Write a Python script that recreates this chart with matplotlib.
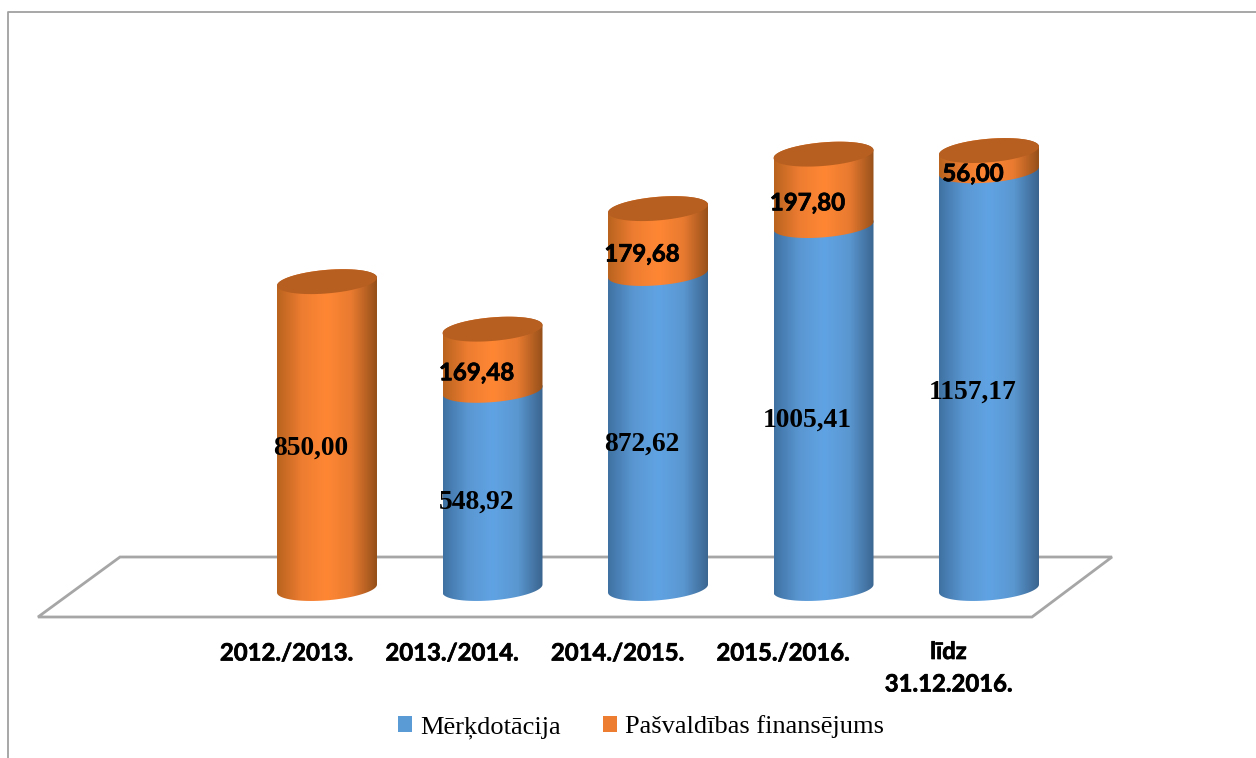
"""Mērķdotācija / pašvaldības finansējums: stacked cylinders on a floor."""
import numpy as np
import matplotlib
matplotlib.use("Agg")
import matplotlib.pyplot as plt
import matplotlib.patheffects as pe
from matplotlib.colors import LinearSegmentedColormap
from matplotlib.lines import Line2D
from matplotlib.patches import Patch, Polygon

categories = ["2012./2013.", "2013./2014.", "2014./2015.", "2015./2016.", "līdz\n31.12.2016."]
merkdotacija = [0.0, 548.92, 872.62, 1005.41, 1157.17]
pasvaldiba = [850.00, 169.48, 179.68, 197.80, 56.00]
label_merk = ["", "548,92", "872,62", "1005,41", "1157,17"]
label_pasv = ["850,00", "169,48", "179,68", "197,80", "56,00"]
series_names = ["Mērķdotācija", "Pašvaldības finansējums"]

W, H = 1256, 758
# pixel geometry of the scales
X0, STEP = 327.0, 165.5
Y0, PX_PER_UNIT = 588.5, 0.361
HALF_W = 50.0 / STEP
ELL_B = 11.8 / PX_PER_UNIT
ELL_TILT = 4.0 / PX_PER_UNIT

BLUE = ["#3f72a3", "#5a97d2", "#60a3e4", "#5a97d0", "#3a648f"]
ORANGE = ["#b9631f", "#ee7d31", "#ff8734", "#e87a30", "#96501a"]
CAP = "#b75f20"
LINE = "#a6a6a6"
HEAVY = [pe.withStroke(linewidth=0.5, foreground="black")]

fig = plt.figure(figsize=(W / 100, H / 100), dpi=100, facecolor="white")
ax = fig.add_axes([0, 0, 1, 1])
ax.axis("off")


def fig_xy(px, py):
    return px / W, 1 - py / H


# frame
fig.add_artist(Line2D(*zip(fig_xy(8, H), fig_xy(8, 12), fig_xy(W, 12)), color="#a0a0a0", lw=1.3))
# floor
floor = [fig_xy(38, 617), fig_xy(1032, 617), fig_xy(1112, 557), fig_xy(120, 557)]
ax.add_patch(Polygon(floor, closed=True, fill=False, edgecolor=LINE, lw=2,
                     transform=fig.transFigure, zorder=1))


def arc(i, v, t0, t1):
    # tilted ellipse: right end sits higher than the left end
    t = np.linspace(t0, t1, 60)
    return i + HALF_W * np.cos(t), v + ELL_TILT * np.cos(t) + ELL_B * np.sin(t)


def segment(i, v0, v1, colors, z):
    # side of the cylinder: front arc below, back arc above, horizontal shading
    xb, yb = arc(i, v0, np.pi, 2 * np.pi)
    xt, yt = arc(i, v1, 0, np.pi)
    poly = Polygon(np.column_stack([np.r_[xb, xt], np.r_[yb, yt]]), closed=True,
                   facecolor="none", edgecolor="none", zorder=z)
    ax.add_patch(poly)
    cmap = LinearSegmentedColormap.from_list("side", colors)
    grad = np.linspace(0, 1, 200)[None, :]
    im = ax.imshow(grad, cmap=cmap, aspect="auto", zorder=z, interpolation="bilinear",
                   extent=(i - HALF_W, i + HALF_W, v0 - 60, v1 + 60))
    im.set_clip_path(poly)


for i, (m, p) in enumerate(zip(merkdotacija, pasvaldiba)):
    if m > 0:
        segment(i, 0, m, BLUE, 2 + i * 0.1)
    top = m + p
    segment(i, m, top, ORANGE, 2.03 + i * 0.1)
    xc, yc = arc(i, top, 0, 2 * np.pi)
    ax.fill(xc, yc, color=CAP, lw=0, zorder=2.06 + i * 0.1)

# imshow changes the limits, so set them afterwards
ax.set_xlim(-X0 / STEP, (W - X0) / STEP)
ax.set_ylim(-(H - Y0) / PX_PER_UNIT, Y0 / PX_PER_UNIT)

# data labels
offset = (-16 * 0.72, -13 * 0.72)
for i, (m, p) in enumerate(zip(merkdotacija, pasvaldiba)):
    if m > 0:
        ax.annotate(label_merk[i], (i, m / 2), xytext=offset, textcoords="offset points",
                    ha="center", va="center", fontsize=19.8, fontweight="bold",
                    family="Liberation Serif", color="black", zorder=10)
    serif = m == 0
    t = ax.annotate(label_pasv[i], (i, m + p / 2), xytext=offset, textcoords="offset points",
                    ha="center", va="center", fontsize=19.8 if serif else 17.3, fontweight="bold",
                    family="Liberation Serif" if serif else "Lato", color="black", zorder=10)
    if not serif:
        t.set_path_effects(HEAVY)

# category labels
for i, c in enumerate(categories):
    two_lines = "\n" in c
    py = 640 if two_lines else 651
    ax.text(i - 40.5 / STEP, -(py - Y0) / PX_PER_UNIT, c, ha="center",
            va="top" if two_lines else "center_baseline", fontsize=17.2, fontweight="bold",
            family="Lato", linespacing=1.5, color="black", zorder=10, path_effects=HEAVY)

# legend
handles = [Patch(facecolor="#5b9bd5", edgecolor="none"), Patch(facecolor="#ed7d31", edgecolor="none")]
ax.legend(handles, series_names, loc="center", bbox_to_anchor=fig_xy(641, 727),
          bbox_transform=fig.transFigure, ncol=2, frameon=False,
          prop={"family": "Liberation Serif", "size": 19}, handlelength=0.55, handleheight=0.55,
          handletextpad=0.3, columnspacing=1.6)

fig.savefig("out.png", dpi=100)
plt.close(fig)
